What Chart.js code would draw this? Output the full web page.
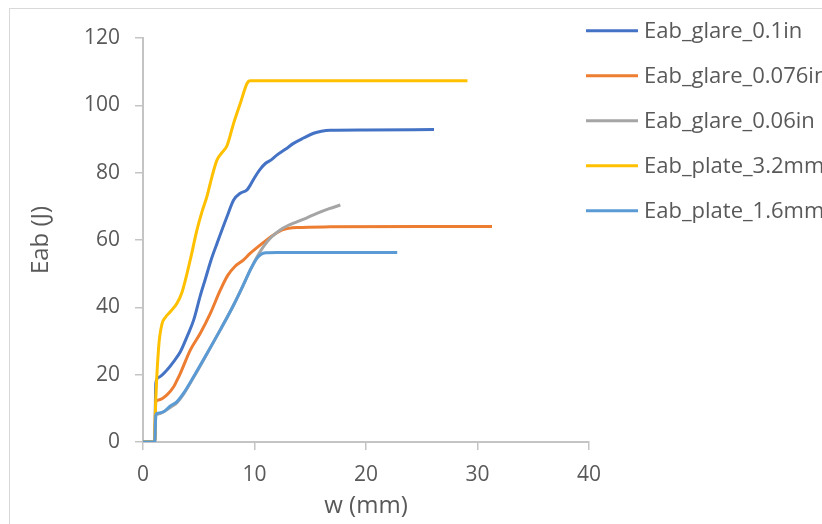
<!DOCTYPE html>
<html><head><meta charset="UTF-8">
<title>Eab vs w</title>
<script src="https://cdn.jsdelivr.net/npm/chart.js"></script>
<style>
  html,body{margin:0;background:#fff;overflow:hidden}
  #wrap{position:relative;width:822px;height:524px}
</style>
</head><body>
<div id="wrap"><canvas id="chart" width="822" height="524"></canvas></div>
<script>
const names = ["Eab_glare_0.1in","Eab_glare_0.076in","Eab_glare_0.06in","Eab_plate_3.2mm","Eab_plate_1.6mm"];
const colors = ["#4472C4","#ED7D31","#A5A5A5","#FFC000","#5B9BD5"];
const xTicks = [0,10,20,30,40];
const yTicks = [0,20,40,60,80,100,120];

const glare01X = [0,1.05,1.15,1.4,2.15,2.75,3.35,3.95,4.54,5.14,5.6,6.1,6.64,7.53,8.13,8.73,9.33,9.62,10.0,10.5,11.0,11.5,12.0,12.8,13.5,14.4,15.3,16.0,16.8,20,26.1];
const glare01Y = [0,0,17.5,19.2,21.4,23.9,26.8,31.3,36.2,43.5,48.5,54,59,66.9,71.9,73.9,74.9,76.3,78.5,81,82.8,83.8,85.2,87,88.7,90.3,91.7,92.3,92.6,92.7,92.8];

const glare076X = [0,1.05,1.15,1.4,2.15,2.75,3.0,3.35,4.24,5.14,6.04,6.93,7.6,8.2,9.02,9.6,10.5,11.1,11.7,12.5,13.8,16.8,25,31.3];
const glare076Y = [0,0,12,12.5,14,16.4,18,20.4,27.3,32.3,38.2,45.1,49.5,52,54.1,56,58.5,60,61.5,63,63.7,63.9,64,64];

const glare006X = [0,1.05,1.15,1.4,2.0,2.6,3.05,3.64,4.54,5.74,6.93,8.13,9.02,9.62,10.2,10.8,11.5,12.3,13.0,13.8,14.7,15.6,16.7,17.7];
const glare006Y = [0,0,8,8.3,9.3,10.6,11.7,14.2,19.2,26.2,33.3,40.7,46.8,51.1,54.8,58,60.8,63,64.3,65.4,66.6,67.9,69.3,70.4];

const plate32X = [0,1.05,1.1,1.4,1.7,2.0,2.45,3.05,3.5,3.8,4.3,4.84,5.3,5.74,6.2,6.64,7.1,7.53,8.13,8.73,9.33,9.62,10,15,29.1];
const plate32Y = [0,0,8,28,35,37,38.7,41.2,44.5,48.1,55,63,68.5,73,79,83.8,86,88,94.7,100.6,106.5,107.3,107.3,107.3,107.3];

const plate16X = [0,1.05,1.15,1.25,1.85,2.45,3.05,3.64,4.54,5.74,6.93,8.13,9.02,9.62,10.2,10.6,11.0,12,16,22.8];
const plate16Y = [0,0,8,8.5,9.0,10.7,12.0,14.5,19.4,26.3,33.3,40.7,46.8,51.1,54.5,55.8,56.2,56.3,56.3,56.3];

const seriesX = [glare01X, glare076X, glare006X, plate32X, plate16X];
const seriesY = [glare01Y, glare076Y, glare006Y, plate32Y, plate16Y];

const txt = "#595959", axisCol = "#c4c4c4";
Chart.defaults.font.family = '"Open Sans", sans-serif';
Chart.defaults.font.size = 21;
Chart.defaults.color = txt;

const frame = {
  id: "frame",
  beforeDraw(c) {
    const ctx = c.ctx;
    ctx.save(); ctx.strokeStyle = "#d9d9d9"; ctx.lineWidth = 1;
    ctx.strokeRect(9.5, 8.5, 1000, 1000); ctx.restore();
  }
};
const legend = {
  id: "sideLegend",
  afterDraw(c) {
    const ctx = c.ctx;
    ctx.save();
    ctx.font = '22px "Open Sans", sans-serif';
    c.data.datasets.forEach((d, i) => {
      const y = 30.7 + i * 45;
      ctx.strokeStyle = d.borderColor; ctx.lineWidth = 3;
      ctx.beginPath(); ctx.moveTo(586, y); ctx.lineTo(638, y); ctx.stroke();
      ctx.fillStyle = txt; ctx.textBaseline = "alphabetic";
      ctx.fillText(d.label, 644, y + 7.5);
    });
    ctx.restore();
  }
};

new Chart(document.getElementById("chart"), {
  type: "scatter",
  data: {
    datasets: names.map((n, i) => ({
      label: n,
      data: seriesX[i].map((x, k) => ({x, y: seriesY[i][k]})),
      borderColor: colors[i], backgroundColor: colors[i],
      showLine: true, borderWidth: 3, pointRadius: 0,
      cubicInterpolationMode: "monotone", order: names.length - i
    }))
  },
  options: {
    responsive: false, animation: false, devicePixelRatio: 1,
    layout: {padding: {left: 0, right: 233, top: 38, bottom: 0}},
    plugins: {legend: {display: false}, tooltip: {enabled: false}},
    scales: {
      x: {
        type: "linear", min: 0, max: 40,
        afterBuildTicks: s => { s.ticks = xTicks.map(v => ({value: v})); },
        afterFit: s => { s.height = 82; },
        grid: {drawOnChartArea: false, drawTicks: true, tickLength: 8, color: axisCol, lineWidth: 1.5},
        border: {color: axisCol, width: 2},
        ticks: {padding: 12, maxRotation: 0},
        title: {display: true, text: "w (mm)", font: {size: 24}, padding: {top: 0, bottom: 3}}
      },
      y: {
        type: "linear", min: 0, max: 120,
        afterBuildTicks: s => { s.ticks = yTicks.map(v => ({value: v})); },
        afterFit: s => { s.width = 143; },
        grid: {drawOnChartArea: false, drawTicks: true, tickLength: 8, color: axisCol, lineWidth: 1.5},
        border: {color: axisCol, width: 2},
        ticks: {padding: 15},
        title: {display: true, text: "Eab (J)", font: {size: 24}, padding: {top: 27, bottom: 0}}
      }
    }
  },
  plugins: [frame, legend]
});
</script>
</body></html>
